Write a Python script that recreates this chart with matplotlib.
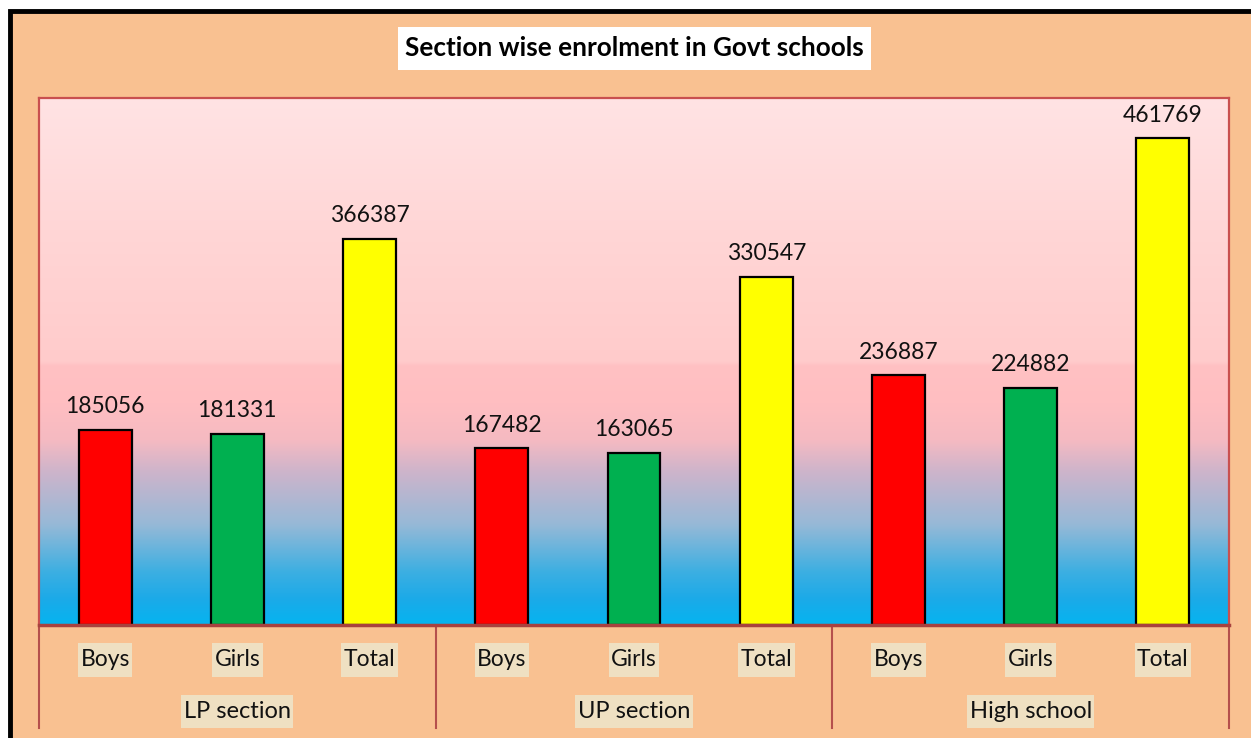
import numpy as np
import matplotlib
matplotlib.use("Agg")
import matplotlib.pyplot as plt
from matplotlib.patches import Rectangle
from matplotlib.lines import Line2D

# ---- data ----
sections = ["LP section", "UP section", "High school"]
sub_labels = ["Boys", "Girls", "Total"]
lp_values = [185056, 181331, 366387]
up_values = [167482, 163065, 330547]
hs_values = [236887, 224882, 461769]
bar_colors = ["#FF0000", "#00B050", "#FFFF00"]
title = "Section wise enrolment in Govt schools"

values = lp_values + up_values + hs_values
labels = sub_labels * len(sections)

W, H = 1251, 738
fig = plt.figure(figsize=(W / 100, H / 100), dpi=100)
fig.patch.set_facecolor("white")

def fx(px):
    return px / W

def fy(py):
    return 1 - py / H

peach = "#F9C191"
fig.patches.append(Rectangle((fx(10), fy(760)), fx(1260), fy(11) - fy(760),
                             transform=fig.transFigure, facecolor=peach,
                             edgecolor="black", linewidth=3.5, zorder=-5))

# plot area
x0, x1, ytop, ybot = 39, 1229, 98, 625
ax = fig.add_axes([fx(x0), fy(ybot), fx(x1 - x0), fy(ytop) - fy(ybot)])
ax.set_zorder(3)
n = len(values)
ax.set_xlim(-0.5, n - 0.5)
ax.set_ylim(0, 500000)

# background gradient
stops = [
    (0.00, (5, 180, 240)),
    (0.05, (28, 170, 232)),
    (0.10, (60, 175, 226)),
    (0.19, (150, 185, 215)),
    (0.29, (205, 180, 203)),
    (0.35, (245, 186, 194)),
    (0.42, (255, 190, 193)),
    (0.492, (255, 193, 195)),
    (0.50, (255, 203, 203)),
    (0.75, (255, 214, 214)),
    (1.00, (255, 227, 228)),
]
fs = np.linspace(0, 1, 600)
cols = np.zeros((600, 1, 3))
sp = np.array([s[0] for s in stops])
for c in range(3):
    cv = np.array([s[1][c] for s in stops]) / 255.0
    cols[:, 0, c] = np.interp(fs, sp, cv)
ax.imshow(cols, extent=(-0.5, n - 0.5, 0, 500000), origin="lower",
          aspect="auto", zorder=0, interpolation="bilinear")

xs = np.arange(n)
ax.bar(xs, values, width=0.4, color=bar_colors * len(sections),
       edgecolor="black", linewidth=1.6, zorder=2)

for x, v in zip(xs, values):
    ax.text(x, v + 12000, str(v), ha="center", va="bottom",
            fontsize=16.5, family="Lato", color="#111111", zorder=3)

ax.set_xticks([])
ax.set_yticks([])
for s in ["top", "left", "right"]:
    ax.spines[s].set_color("#C9504F")
    ax.spines[s].set_linewidth(1.6)
ax.spines["bottom"].set_color("#A8423F")
ax.spines["bottom"].set_linewidth(2.5)

# category labels with beige boxes
texts = []
for x, lab in zip(xs, labels):
    px = x0 + (x + 0.5) * (x1 - x0) / n
    t = fig.text(fx(px), fy(660), lab, ha="center", va="center",
                 fontsize=16.5, family="Lato", color="#111111", zorder=2)
    texts.append((t, 643, 677))
for i, sec in enumerate(sections):
    px = x0 + (3 * i + 1.5) * (x1 - x0) / n
    t = fig.text(fx(px), fy(711), sec, ha="center", va="center",
                 fontsize=17, family="Lato", color="#111111", zorder=2)
    texts.append((t, 695, 728))

fig.canvas.draw()
r = fig.canvas.get_renderer()
for t, yt, yb in texts:
    bb = t.get_window_extent(r)
    fig.patches.append(Rectangle((fx(bb.x0 - 2.5), fy(yb)), fx(bb.width + 5),
                                 fy(yt) - fy(yb), transform=fig.transFigure,
                                 facecolor="#EFE0C2", edgecolor="none", zorder=1))

# dividers
for i in range(len(sections) + 1):
    px = x0 + 3 * i * (x1 - x0) / n
    fig.lines.append(Line2D([fx(px), fx(px)], [fy(626), fy(728)],
                            transform=fig.transFigure, color="#B5504C",
                            linewidth=1.5))

# title
fig.patches.append(Rectangle((fx(398), fy(70)), fx(871 - 398), fy(27) - fy(70),
                             transform=fig.transFigure, facecolor="white",
                             edgecolor="none", zorder=1))
fig.text(fx(634), fy(48.5), title, ha="center", va="center", fontsize=18.8,
         fontweight="bold", family="Lato", color="black", zorder=2)

fig.savefig("out.png", dpi=100, facecolor=fig.get_facecolor())
